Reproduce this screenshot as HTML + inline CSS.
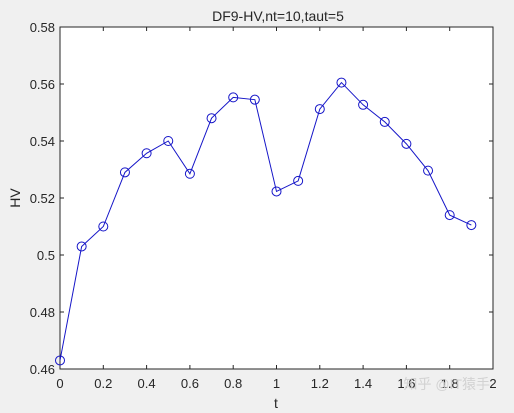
<!DOCTYPE html>
<html><head><meta charset="utf-8"><style>
html,body{margin:0;padding:0;background:#f0f0f0;}
svg{display:block;font-family:"Liberation Sans","Noto Sans CJK SC",sans-serif;}
</style></head><body>
<svg id="chart" width="514" height="413">
<rect x="0" y="0" width="514" height="413" fill="#f0f0f0"/>
<rect x="60" y="27" width="433" height="342" fill="#fff" stroke="#262626" stroke-width="1"/>
<text x="278" y="21" text-anchor="middle" font-size="14" fill="#262626">DF9-HV,nt=10,taut=5</text>
<text x="276" y="408" text-anchor="middle" font-size="14" fill="#262626">t</text>
<text x="20" y="198" text-anchor="middle" font-size="14" fill="#262626" transform="rotate(-90 20 198)">HV</text>
<g id="axes"></g>
<g id="series"></g>
<text x="490" y="389" text-anchor="end" font-size="14" fill="#cfcfcf" opacity="0.9">知乎 @IT猿手</text>
</svg>
<script>
const tValues=[0,0.1,0.2,0.3,0.4,0.5,0.6,0.7,0.8,0.9,1.0,1.1,1.2,1.3,1.4,1.5,1.6,1.7,1.8,1.9];
const hvValues=[0.463,0.503,0.510,0.529,0.5357,0.540,0.5285,0.548,0.5553,0.5545,0.5223,0.526,0.5512,0.5605,0.5527,0.5467,0.539,0.5296,0.514,0.5105];
const xTicks=[0,0.2,0.4,0.6,0.8,1,1.2,1.4,1.6,1.8,2];
const xTickLabels=["0","0.2","0.4","0.6","0.8","1","1.2","1.4","1.6","1.8","2"];
const yTicks=[0.46,0.48,0.5,0.52,0.54,0.56,0.58];
const yTickLabels=["0.46","0.48","0.5","0.52","0.54","0.56","0.58"];
const L=60,R=493,T=27,B=369;
const xS=v=>L+(v-0)/(2-0)*(R-L);
const yS=v=>B-(v-0.46)/(0.58-0.46)*(B-T);
const NS="http://www.w3.org/2000/svg";
const ax=document.getElementById('axes');
function mk(tag,attrs,parent){const e=document.createElementNS(NS,tag);for(const k in attrs)e.setAttribute(k,attrs[k]);parent.appendChild(e);return e;}
xTicks.forEach((v,i)=>{
  const x=xS(v);
  const t1=mk('line',{x1:x,x2:x,y1:B,y2:B-4,stroke:'#262626'},ax);
  
  
  const t2=mk('line',{x1:x,x2:x,y1:T,y2:T+4,stroke:'#262626'},ax);
  
  
  const tx=mk('text',{x:x,y:388,'text-anchor':'middle','font-size':'13',fill:'#262626'},ax);
  tx.textContent=xTickLabels[i];
  
  
});
yTicks.forEach((v,i)=>{
  const y=yS(v);
  const t1=mk('line',{x1:L,x2:L+4,y1:y,y2:y,stroke:'#262626'},ax);
  
  
  const t2=mk('line',{x1:R,x2:R-4,y1:y,y2:y,stroke:'#262626'},ax);
  
  
  const tx=mk('text',{x:55,y:y+5,'text-anchor':'end','font-size':'13',fill:'#262626'},ax);
  tx.textContent=yTickLabels[i];
  
  
});
const sg=document.getElementById('series');
const pts=tValues.map((t,i)=>xS(t)+','+yS(hvValues[i])).join(' ');
const pl=mk('polyline',{points:pts,fill:'none',stroke:'#1515c8','stroke-width':'1'},sg);


tValues.forEach((t,i)=>{
  const c=mk('circle',{cx:xS(t),cy:yS(hvValues[i]),r:4.5,fill:'none',stroke:'#1515c8','stroke-width':'1'},sg);
  
  
});
</script>
</body></html>
